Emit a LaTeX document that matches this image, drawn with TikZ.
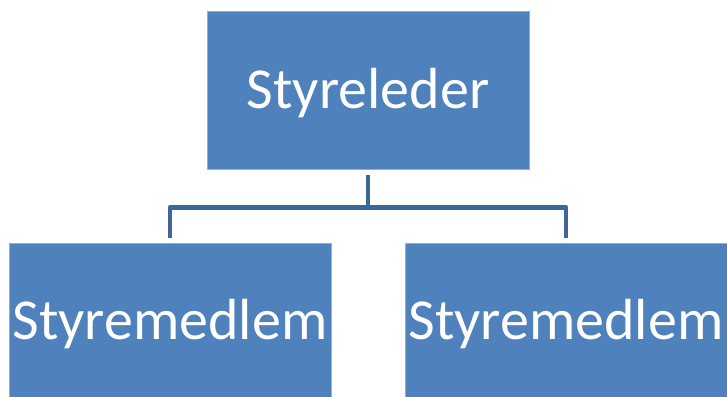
\documentclass[tikz,border=0pt]{standalone}
\usepackage{fontspec}
\setmainfont{Carlito}
\definecolor{boxblue}{HTML}{4F81BD}
\definecolor{edgeblue}{HTML}{8FB0D8}
\definecolor{linkblue}{HTML}{3F6698}
\begin{document}
\begin{tikzpicture}[x=1pt,y=-1pt,
  orgbox/.style={rectangle,fill=boxblue,draw=edgeblue,line width=0.8pt,inner sep=0pt,
    minimum width=322pt,text=white,font=\fontsize{58}{61}\selectfont,
    text height=36pt,text depth=0pt},
  link/.style={draw=linkblue,line width=4.8pt,line join=round}]
\useasboundingbox (0,0) rectangle (727,396);
\node[orgbox,minimum height=158pt] (top) at (368,90) {Styreleder};
\node[orgbox,minimum height=156pt] (bl) at (170,321) {Styremedlem};
\node[orgbox,minimum height=156pt] (br) at (566,321) {Styremedlem};
\coordinate (j) at ([yshift=-38pt]top.south);
\draw[link] ([yshift=-6pt]top.south) -- (j);
\draw[link] (j) -| ([yshift=5pt]bl.north);
\draw[link] (j) -| ([yshift=5pt]br.north);
\end{tikzpicture}
\end{document}
